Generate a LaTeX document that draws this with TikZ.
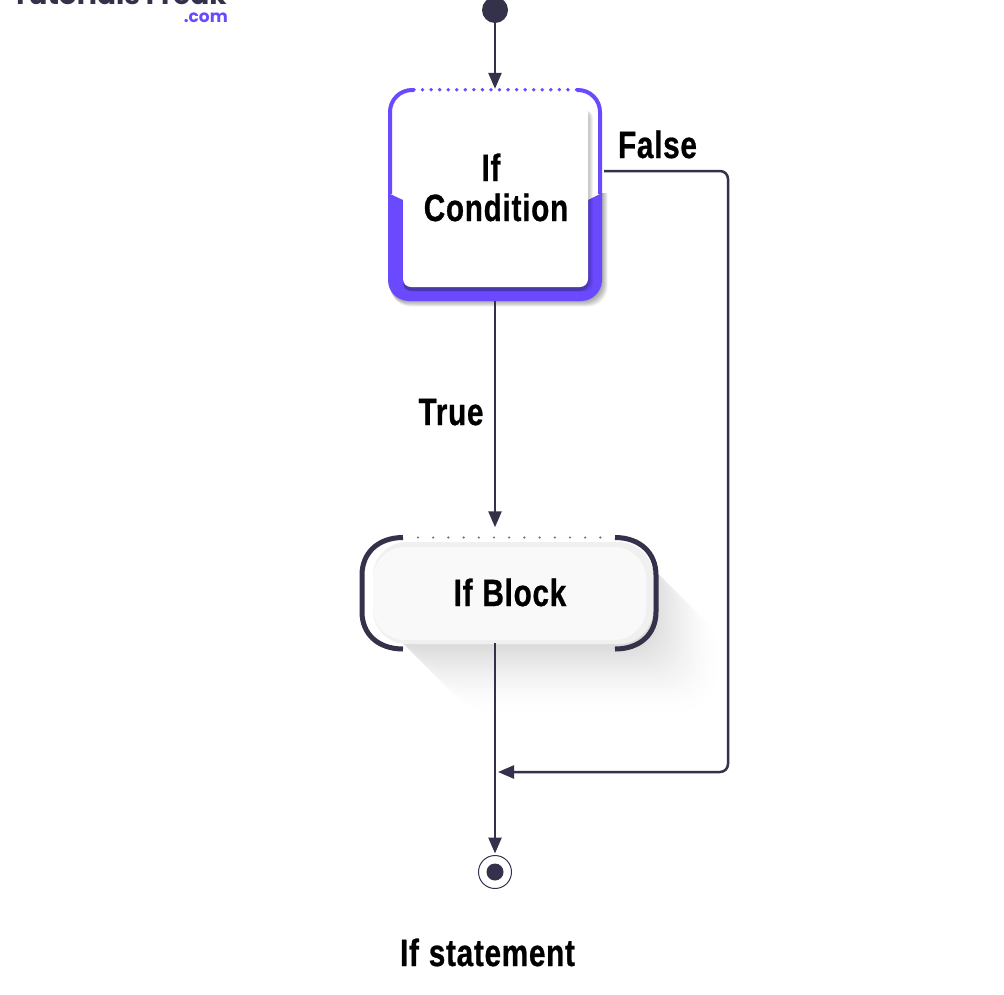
\documentclass[tikz,border=0pt]{standalone}
\usepackage{fontspec}
\usetikzlibrary{arrows.meta}
\setmainfont{Liberation Sans}
\newfontfamily\lblfont[FakeStretch=0.78,FakeBold=0.7,LetterSpace=2,WordSpace=1.1]{Liberation Sans Bold}
\newfontfamily\logofont{Poppins Bold}
\definecolor{ink}{HTML}{34314A}
\definecolor{violet}{HTML}{6B49FF}
\definecolor{deepviolet}{HTML}{4A38B0}
\tikzset{
  x=1pt,y=-1pt,
  conn/.style={draw=ink,line width=2.5pt,-{Triangle[width=13pt,length=16pt]}},
  plainconn/.style={draw=ink,line width=2.5pt},
  lbl/.style={font=\lblfont\fontsize{38}{41}\selectfont,text=black,inner sep=0pt,align=center},
  bracket/.style={draw=ink,line width=5pt},
}
\begin{document}
\begin{tikzpicture}
\useasboundingbox (0,0) rectangle (1004,994);
\clip (0,0) rectangle (1004,994);
\fill[white] (0,0) rectangle (1004,994);

% logo
\node[anchor=base west,inner sep=0pt,font=\logofont\fontsize{28}{28}\selectfont,text=ink] (logo) at (12,4) {Tutorials Freak};
\node[anchor=base east,inner sep=0pt,font=\logofont\fontsize{17}{17}\selectfont,text=violet] (logocom) at (228,22) {.com};

% long shadow of the block
\foreach \k in {68,66,...,0}{
  \pgfmathsetmacro\sh{15*(1-\k/70)^1.6}
  \fill[black!\sh!white,rounded corners=30pt] (\k+385,\k+548) rectangle (\k+650,\k+643);
}

% condition box: soft outer shadow
\begin{scope}
  \clip (380,193) rectangle (620,320);
  \foreach \k in {1,...,7}{
    \fill[black,opacity=.05,rounded corners=20pt] (388+\k*.4,88+\k*.4) rectangle (602+\k*.8,301+\k*.8);
  }
\end{scope}
\fill[white] (388,100) rectangle (602,201);
% lower filled part and upper outline
\fill[violet] (388,193) -- (403,200) -- (588,200) -- (602,193) -- (602,280) arc[start angle=0,end angle=90,radius=21] -- (409,301) arc[start angle=90,end angle=180,radius=21] -- cycle;
\draw[violet,line width=4pt,rounded corners=22pt] (390,194) -- (390,90) -- (414,90);
\draw[violet,line width=4pt,rounded corners=22pt] (600,194) -- (600,90) -- (577,90);
\foreach \i in {0,...,19}{
  \fill[violet] (414+\i*8.55,89.7) circle[radius=1.9];
}
% inner card shadow
\foreach \k in {1,...,5}{
  \fill[black,opacity=.05,rounded corners=8pt] (410,110) rectangle (588+\k,287+\k*.9);
}
\fill[deepviolet,rounded corners=8pt] (403,270) rectangle (588,291);
\fill[white,rounded corners=8pt] (403,103) rectangle (588,287);
\node[minimum width=214pt,minimum height=213pt,inner sep=0pt] (cond) at (495,194.5) {};
\node[lbl,anchor=base] (condif) at (491,181) {If};
\node[lbl,anchor=base] (condword) at (496,221) {Condition};

% block
\fill[black!6!white,rounded corners=34pt] (373,542) rectangle (653,644);
\fill[black!2.5!white,rounded corners=32pt] (373,547) rectangle (646,640);
\node[minimum width=298pt,minimum height=114pt,inner sep=0pt] (block) at (508.5,593.5) {};
\node[lbl,anchor=base] (blocktext) at (510,606) {If Block};
\draw[bracket] (403,537.5) .. controls (378,537.5) and (362,553) .. (362,575) -- (362,612) .. controls (362,634) and (378,649) .. (403,649);
\draw[bracket] (615,537.5) .. controls (640,537.5) and (656,553) .. (656,575) -- (656,612) .. controls (656,634) and (640,649) .. (615,649);
\foreach \i in {0,...,12}{
  \fill[ink!70!white] (418+\i*15.2,537.5) circle[radius=1.2];
}

% start and end
\node[circle,fill=ink,minimum size=26pt,inner sep=0pt] (start) at (495,10) {};
\node[circle,draw=ink,line width=1pt,minimum size=33pt,inner sep=0pt] (final) at (495,872) {};
\node[circle,fill=ink,minimum size=17pt,inner sep=0pt] (finaldot) at (495,872) {};

% labels
\node[lbl,anchor=base] (falselbl) at (657.5,158) {False};
\node[lbl,anchor=base] (truelbl) at (451,425) {True};
\node[lbl,anchor=base] (caption) at (487.5,966) {If statement};

% connectors
\coordinate (merge) at (495,772);
\coordinate (falseout) at (604,171);
\draw[conn] (start.south) -- ([yshift=-1pt]cond.north);
\draw[conn] (cond.south) -- ([yshift=9pt]cond.south |- block.north);
\draw[plainconn] (merge |- 0,643) -- (merge);
\draw[conn] (merge) -- ([yshift=1.5pt]final.north);
\draw[conn,rounded corners=8pt] (falseout) -- (728,171) -- (728,772) -- ([xshift=3pt]merge);
\end{tikzpicture}
\end{document}
